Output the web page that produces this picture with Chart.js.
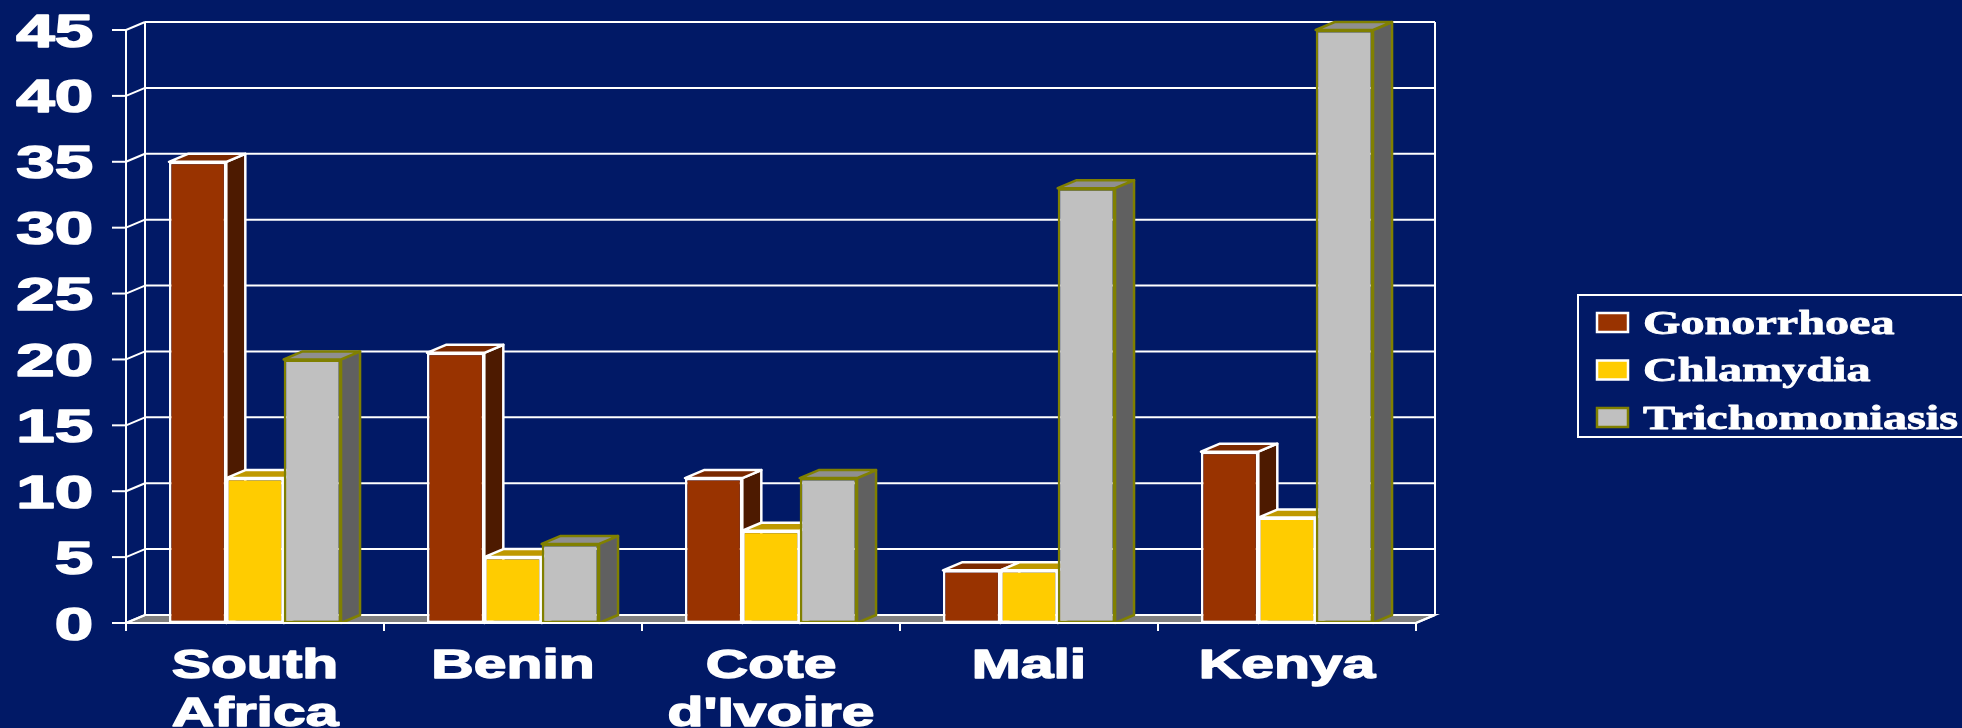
<!DOCTYPE html>
<html>
<head>
<meta charset="utf-8">
<script src="https://cdn.jsdelivr.net/npm/chart.js@4.4.1/dist/chart.umd.min.js"></script>
<style>
  html, body { margin: 0; padding: 0; background: #011966; overflow: hidden; }
  #wrap { width: 1962px; height: 728px; }
</style>
</head>
<body>
<div id="wrap"><canvas id="c" width="1962" height="728"></canvas></div>
<script>
// Prevalence of STIs by country
const categories = [['South', 'Africa'], 'Benin', ['Cote', "d'Ivoire"], 'Mali', 'Kenya'];
const gonorrhoea = [35, 20.5, 11, 4, 13];
const chlamydia = [11, 5, 7, 4, 8];
const trichomoniasis = [20, 6, 11, 33, 45];
const seriesNames = ['Gonorrhoea', 'Chlamydia', 'Trichomoniasis'];
const yTicks = [0, 5, 10, 15, 20, 25, 30, 35, 40, 45];

// colours per series: front, top, side, edge
const faceColors = [
  { front: '#993300', top: '#7a2900', side: '#4d1a00', edge: '#ffffff' },
  { front: '#ffcc00', top: '#bf9900', side: '#8c7000', edge: '#ffffff' },
  { front: '#c0c0c0', top: '#8f8f8f', side: '#606060', edge: '#808000' }
];

const DX = 19, DY = 8;          // depth offset of the 3D box
const STRETCH_AXIS = 1.5;       // wide lettering
const STRETCH_LEGEND = 1.46;

function wideText(ctx, text, x, y, align, sx, weight) {
  ctx.save();
  ctx.translate(x, y);
  ctx.scale(sx, 1);
  ctx.textAlign = align;
  ctx.textBaseline = 'alphabetic';
  ctx.fillText(text, 0, 0);
  if (weight) {
    ctx.lineWidth = weight;
    ctx.lineJoin = 'round';
    ctx.strokeStyle = ctx.fillStyle;
    ctx.strokeText(text, 0, 0);
  }
  ctx.restore();
}

function line(ctx, x1, y1, x2, y2) {
  ctx.beginPath();
  ctx.moveTo(x1, y1);
  ctx.lineTo(x2, y2);
  ctx.stroke();
}

const box3d = {
  id: 'box3d',
  beforeDatasetsDraw(chart) {
    const { ctx, chartArea: a, scales: { x, y } } = chart;
    const yMin = y.getPixelForValue(yTicks[0]);
    const yMax = y.getPixelForValue(yTicks[yTicks.length - 1]);
    ctx.save();
    ctx.lineWidth = 2;
    ctx.strokeStyle = '#ffffff';

    // floor
    ctx.fillStyle = '#808080';
    ctx.beginPath();
    ctx.moveTo(a.left, yMin);
    ctx.lineTo(a.left + DX, yMin - DY);
    ctx.lineTo(a.right + DX, yMin - DY);
    ctx.lineTo(a.right, yMin);
    ctx.closePath();
    ctx.fill();
    ctx.stroke();

    // back wall gridlines, side wall connectors, tick marks
    yTicks.forEach(v => {
      const py = y.getPixelForValue(v);
      line(ctx, a.left + DX, py - DY, a.right + DX, py - DY);
      line(ctx, a.left, py, a.left + DX, py - DY);
      line(ctx, a.left - 14, py, a.left, py);
    });
    line(ctx, a.left + DX, yMax - DY, a.left + DX, yMin - DY);
    line(ctx, a.right + DX, yMax - DY, a.right + DX, yMin - DY);
    line(ctx, a.left, yMax, a.left, yMin + 8);

    // category separators below the axis
    const step = x.getPixelForValue(1) - x.getPixelForValue(0);
    for (let i = 0; i <= categories.length; i++) {
      const px = x.getPixelForValue(0) - step / 2 + i * step;
      line(ctx, px, yMin, px, yMin + 8);
    }

    // top and side faces of each column, left to right
    ctx.lineWidth = 2.5;
    ctx.lineJoin = 'round';
    for (let i = 0; i < categories.length; i++) {
      chart.data.datasets.forEach((ds, di) => {
        const bar = chart.getDatasetMeta(di).data[i];
        const c = faceColors[di];
        const l = bar.x - bar.width / 2, r = bar.x + bar.width / 2;
        const t = bar.y, b = bar.base;
        ctx.strokeStyle = c.edge;
        // side
        ctx.fillStyle = c.side;
        ctx.beginPath();
        ctx.moveTo(r, t);
        ctx.lineTo(r + DX, t - DY);
        ctx.lineTo(r + DX, b - DY);
        ctx.lineTo(r, b);
        ctx.closePath();
        ctx.fill();
        ctx.stroke();
        // top
        ctx.fillStyle = c.top;
        ctx.beginPath();
        ctx.moveTo(l, t);
        ctx.lineTo(l + DX, t - DY);
        ctx.lineTo(r + DX, t - DY);
        ctx.lineTo(r, t);
        ctx.closePath();
        ctx.fill();
        ctx.stroke();
      });
    }
    ctx.restore();
  },
  afterDatasetsDraw(chart) {
    const { ctx, chartArea: a, scales: { x, y } } = chart;
    const yMin = y.getPixelForValue(0);
    ctx.save();
    ctx.strokeStyle = '#ffffff';
    ctx.lineWidth = 2;
    line(ctx, a.left, yMin, a.right, yMin);
    line(ctx, a.right, yMin, a.right + DX, yMin - DY);

    // value axis labels
    ctx.fillStyle = '#ffffff';
    ctx.font = 'bold 46px "Liberation Sans", Arial, sans-serif';
    yTicks.forEach(v => {
      wideText(ctx, String(v), 93, y.getPixelForValue(v) + 16.5, 'right', STRETCH_AXIS, 1.6);
    });

    // category labels
    ctx.font = 'bold 40px "Liberation Sans", Arial, sans-serif';
    categories.forEach((cat, i) => {
      const lines = Array.isArray(cat) ? cat : [cat];
      const px = x.getPixelForValue(i);
      lines.forEach((t, k) => wideText(ctx, t, px, 678 + k * 48, 'center', 1.47, 1.4));
    });

    // legend
    const lx = 1578, ly = 295;
    ctx.lineWidth = 2;
    ctx.strokeStyle = '#ffffff';
    ctx.strokeRect(lx, ly, 520, 142);
    ctx.font = 'bold 33px "Liberation Serif", "Times New Roman", serif';
    seriesNames.forEach((name, k) => {
      const c = faceColors[k];
      const sy = 313 + k * 47.5;
      ctx.fillStyle = c.front;
      ctx.fillRect(1597, sy, 31, 19);
      ctx.lineWidth = 2.5;
      ctx.strokeStyle = c.edge;
      ctx.strokeRect(1597, sy, 31, 19);
      ctx.fillStyle = '#ffffff';
      wideText(ctx, name, 1643, 333.5 + k * 47.5, 'left', STRETCH_LEGEND, 0.8);
    });
    ctx.restore();
  }
};

const seriesValues = [gonorrhoea, chlamydia, trichomoniasis];

new Chart(document.getElementById('c'), {
  type: 'bar',
  data: {
    labels: categories,
    datasets: seriesValues.map((vals, k) => ({
      label: seriesNames[k],
      data: vals,
      backgroundColor: faceColors[k].front,
      borderColor: faceColors[k].edge,
      borderWidth: 2.5,
      borderSkipped: false,
      barPercentage: 1,
      categoryPercentage: 0.667
    }))
  },
  options: {
    responsive: false,
    devicePixelRatio: 1,
    animation: false,
    layout: { padding: { left: 126, right: 546, top: 30, bottom: 105 } },
    plugins: { legend: { display: false }, tooltip: { enabled: false } },
    scales: {
      x: { display: false },
      y: { display: false, min: 0, max: 45 }
    }
  },
  plugins: [box3d]
});
</script>
</body>
</html>
